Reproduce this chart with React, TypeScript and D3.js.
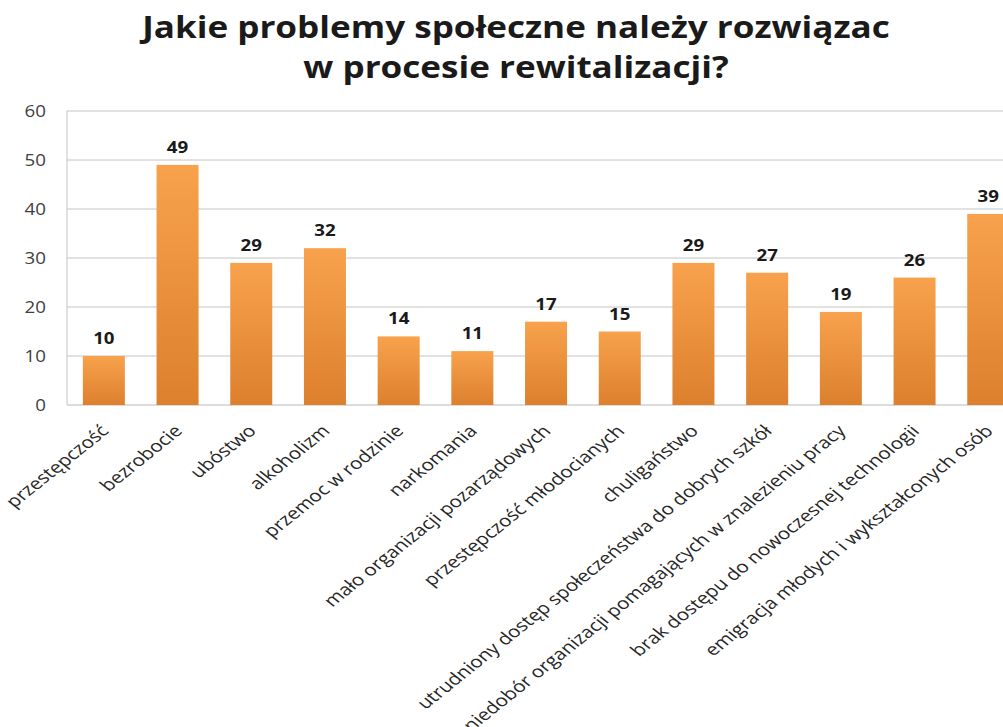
import React from "react";
import * as d3 from "d3";

const titleLines = ["Jakie problemy społeczne należy rozwiązac", "w procesie rewitalizacji?"];
const categories = [
  "przestępczość",
  "bezrobocie",
  "ubóstwo",
  "alkoholizm",
  "przemoc w rodzinie",
  "narkomania",
  "mało organizacji pozarządowych",
  "przestępczość młodocianych",
  "chuligaństwo",
  "utrudniony dostęp społeczeństwa do dobrych szkół",
  "niedobór organizacji pomagających w znalezieniu pracy",
  "brak dostępu do nowoczesnej technologii",
  "emigracja młodych i wykształconych osób",
];
const values = [10, 49, 29, 32, 14, 11, 17, 15, 29, 27, 19, 26, 39];
const yTicks = [0, 10, 20, 30, 40, 50, 60];

const W = 1003;
const H = 727;
const SX = 1.17; // horizontal stretch of the source picture
const SX_LABEL = 1.25;
const plotLeft = 67;
const plotTop = 111;
const plotBottom = 405;
const band = 73.7;
const plotRight = plotLeft + band * categories.length;

export default function App() {
  const x = d3
    .scaleBand<string>()
    .domain(categories)
    .range([plotLeft, plotRight])
    .paddingInner(0.43)
    .paddingOuter(0.215);
  const y = d3.scaleLinear().domain([0, 60]).range([plotBottom, plotTop]);
  const font = "'Open Sans', 'DejaVu Sans', sans-serif";
  return (
    <svg
      width={W}
      height={H}
      style={{ position: "absolute", left: 0, top: 0, background: "#fff" }}
    >
      <defs>
        <linearGradient id="barGrad" x1="0" y1="0" x2="0" y2="1">
          <stop offset="0%" stopColor="#F8A24D" />
          <stop offset="100%" stopColor="#DC802E" />
        </linearGradient>
      </defs>
      {titleLines.map((t, i) => (
        <text
          key={i}
          transform={`translate(516,${38 + i * 40}) scale(${SX},1)`}
          textAnchor="middle"
          fontFamily={font}
          fontWeight="bold"
          fontSize={30}
          fill="#1a1a1a"
        >
          {t}
        </text>
      ))}
      {yTicks.map((t) => (
        <g key={t}>
          {t > 0 && (
            <line x1={plotLeft} x2={W} y1={y(t)} y2={y(t)} stroke="#c4c4c4" strokeWidth={1} />
          )}
          <text
            transform={`translate(46,${y(t)}) scale(${SX},1)`}
            dy="0.35em"
            textAnchor="end"
            fontFamily={font}
            fontSize={16}
            fill="#404040"
          >
            {t}
          </text>
        </g>
      ))}
      <line x1={plotLeft} x2={plotLeft} y1={plotTop} y2={plotBottom} stroke="#c4c4c4" />
      <line x1={plotLeft} x2={W} y1={plotBottom} y2={plotBottom} stroke="#b8b8b8" />
      {categories.map((c, i) => {
        const bx = x(c)!;
        const bw = x.bandwidth();
        const cx = bx + bw / 2;
        return (
          <g key={c}>
            <rect
              x={bx}
              y={y(values[i])}
              width={bw}
              height={plotBottom - y(values[i])}
              fill="url(#barGrad)"
            />
            <text
              transform={`translate(${cx},${y(values[i]) - 12}) scale(${SX},1)`}
              textAnchor="middle"
              fontFamily={font}
              fontWeight="bold"
              fontSize={16}
              fill="#1a1a1a"
            >
              {values[i]}
            </text>
            <text
              transform={`translate(${cx + 6},${432}) scale(${SX_LABEL},1) rotate(-45)`}
              textAnchor="end"
              fontFamily={font}
              fontSize={16.5}
              fill="#262626"
            >
              {c}
            </text>
          </g>
        );
      })}
    </svg>
  );
}
